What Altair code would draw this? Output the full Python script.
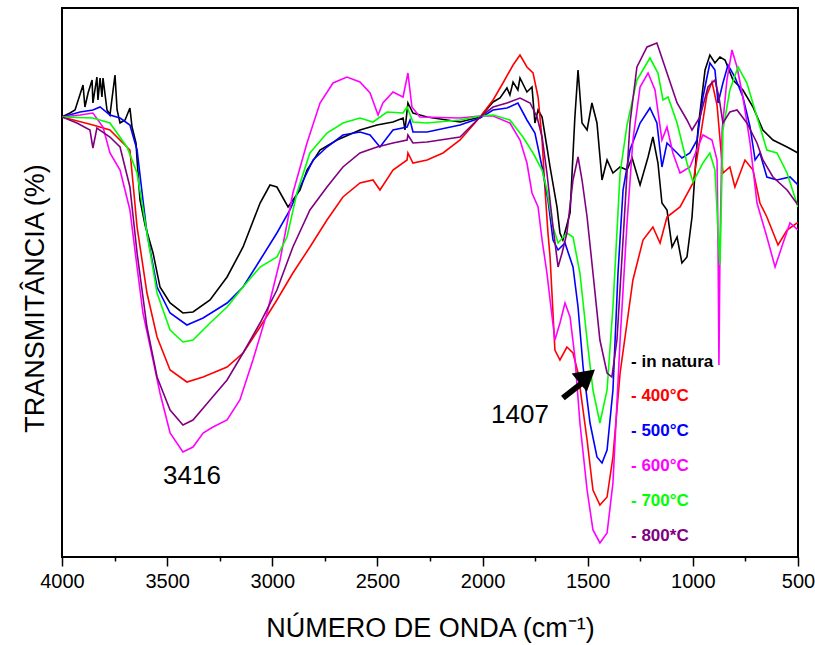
import altair as alt
import pandas as pd

# ---- data (wavenumber cm-1, transmittance in arbitrary units) ----
wn_natura = [4000, 3962, 3938, 3900, 3891, 3876, 3857, 3853, 3834, 3829, 3819, 3810, 3805, 3786, 3772, 3748, 3738, 3724, 3700, 3677, 3667, 3648, 3643, 3629, 3605, 3567, 3534, 3486, 3425, 3377, 3296, 3215, 3139, 3058, 3011, 2978, 2925, 2868, 2835, 2773, 2692, 2583, 2502, 2426, 2378, 2369, 2355, 2331, 2264, 2107, 2012, 1950, 1917, 1884, 1870, 1855, 1832, 1822, 1789, 1765, 1751, 1736, 1717, 1694, 1679, 1646, 1632, 1618, 1584, 1561, 1546, 1527, 1503, 1480, 1456, 1432, 1408, 1380, 1346, 1313, 1289, 1251, 1213, 1190, 1166, 1147, 1123, 1099, 1075, 1052, 1028, 1004, 976, 942, 919, 895, 871, 847, 809, 762, 714, 667, 619, 552, 500]
t_natura = [440, 444, 447, 472, 450, 464, 477, 454, 480, 457, 479, 460, 479, 447, 442, 482, 447, 434, 437, 449, 430, 414, 397, 357, 332, 304, 270, 254, 244, 245, 257, 280, 310, 354, 372, 370, 350, 367, 387, 407, 417, 427, 432, 435, 439, 427, 454, 444, 440, 435, 440, 455, 459, 469, 462, 475, 467, 479, 465, 470, 434, 447, 440, 410, 390, 350, 324, 317, 344, 440, 487, 434, 427, 454, 434, 377, 397, 384, 390, 387, 399, 372, 400, 420, 394, 354, 347, 310, 320, 294, 300, 340, 427, 487, 502, 494, 500, 497, 477, 467, 450, 427, 417, 410, 404]

wn_400 = [4000, 3853, 3772, 3677, 3643, 3596, 3548, 3486, 3406, 3329, 3215, 3139, 3058, 2978, 2902, 2821, 2740, 2664, 2583, 2521, 2488, 2426, 2359, 2355, 2331, 2264, 2188, 2107, 2012, 1950, 1903, 1855, 1822, 1789, 1760, 1736, 1717, 1703, 1689, 1679, 1656, 1632, 1599, 1570, 1546, 1503, 1475, 1442, 1408, 1380, 1346, 1285, 1237, 1190, 1156, 1123, 1061, 999, 933, 909, 885, 857, 824, 800, 752, 714, 681, 648, 595, 552, 505, 500]
t_400 = [440, 432, 427, 407, 330, 264, 220, 187, 175, 180, 190, 204, 230, 257, 284, 310, 337, 360, 374, 377, 367, 387, 397, 404, 394, 397, 404, 417, 440, 457, 474, 492, 502, 490, 484, 460, 417, 367, 324, 300, 207, 197, 210, 204, 184, 117, 67, 52, 60, 100, 184, 277, 317, 330, 314, 340, 350, 374, 462, 475, 452, 384, 390, 370, 397, 387, 354, 340, 312, 327, 334, 334]

wn_500 = [4000, 3914, 3853, 3819, 3772, 3724, 3677, 3643, 3615, 3596, 3548, 3486, 3406, 3329, 3215, 3139, 3058, 2978, 2916, 2868, 2806, 2740, 2664, 2583, 2535, 2488, 2426, 2359, 2345, 2331, 2264, 2107, 2012, 1950, 1884, 1832, 1789, 1751, 1717, 1689, 1665, 1641, 1608, 1570, 1546, 1522, 1489, 1456, 1432, 1408, 1380, 1356, 1332, 1299, 1251, 1204, 1171, 1147, 1123, 1075, 1052, 1014, 980, 952, 919, 895, 880, 857, 833, 800, 762, 728, 704, 681, 648, 600, 538, 500]
t_500 = [440, 445, 447, 450, 442, 439, 432, 407, 357, 324, 270, 244, 232, 239, 254, 270, 297, 324, 347, 370, 397, 410, 422, 425, 422, 410, 427, 430, 437, 425, 425, 432, 439, 447, 449, 454, 437, 424, 390, 357, 317, 307, 314, 290, 250, 190, 134, 100, 94, 107, 167, 284, 367, 407, 434, 449, 434, 390, 414, 404, 399, 404, 417, 460, 494, 487, 454, 474, 492, 480, 460, 430, 397, 404, 380, 377, 380, 372]

wn_600 = [4000, 3914, 3853, 3805, 3772, 3724, 3677, 3643, 3615, 3567, 3534, 3486, 3425, 3377, 3329, 3282, 3215, 3154, 3092, 3025, 2963, 2902, 2835, 2773, 2711, 2645, 2583, 2535, 2497, 2474, 2426, 2378, 2355, 2336, 2298, 2107, 2012, 1950, 1870, 1822, 1789, 1765, 1736, 1717, 1694, 1679, 1656, 1632, 1608, 1584, 1561, 1537, 1503, 1475, 1442, 1408, 1380, 1346, 1313, 1285, 1251, 1213, 1180, 1147, 1123, 1095, 1061, 1014, 976, 952, 909, 885, 880, 876, 871, 861, 838, 814, 790, 762, 728, 695, 648, 609, 571, 538, 500]
t_600 = [440, 442, 444, 430, 404, 387, 347, 290, 244, 197, 164, 124, 105, 110, 124, 130, 137, 157, 197, 244, 297, 364, 414, 454, 474, 480, 475, 464, 442, 454, 465, 460, 484, 450, 440, 439, 441, 441, 434, 417, 394, 364, 350, 317, 284, 257, 217, 234, 254, 240, 200, 134, 67, 27, 14, 24, 74, 217, 334, 417, 470, 484, 467, 417, 430, 404, 384, 390, 410, 422, 417, 397, 307, 192, 307, 427, 477, 507, 490, 460, 414, 354, 320, 290, 314, 334, 327]

wn_700 = [4000, 3853, 3772, 3691, 3643, 3596, 3548, 3486, 3425, 3377, 3296, 3215, 3139, 3058, 2978, 2930, 2883, 2821, 2740, 2664, 2583, 2521, 2454, 2378, 2359, 2331, 2264, 2107, 2012, 1950, 1870, 1808, 1760, 1717, 1694, 1665, 1641, 1599, 1570, 1537, 1503, 1475, 1442, 1408, 1380, 1346, 1313, 1266, 1204, 1166, 1142, 1118, 1075, 1028, 999, 952, 919, 895, 880, 871, 857, 824, 785, 743, 695, 648, 600, 552, 500]
t_700 = [440, 439, 434, 410, 384, 324, 264, 227, 215, 217, 234, 250, 270, 290, 300, 320, 364, 404, 424, 434, 439, 435, 445, 444, 450, 435, 434, 437, 441, 442, 437, 420, 404, 387, 367, 330, 314, 324, 320, 284, 217, 167, 134, 167, 250, 384, 432, 477, 499, 484, 457, 460, 434, 394, 375, 394, 404, 387, 327, 292, 427, 467, 490, 474, 440, 407, 404, 384, 350]

wn_800 = [4000, 3929, 3867, 3853, 3834, 3772, 3724, 3677, 3643, 3596, 3548, 3486, 3425, 3377, 3296, 3215, 3139, 3058, 2978, 2902, 2821, 2740, 2664, 2583, 2502, 2426, 2359, 2355, 2331, 2264, 2107, 2012, 1950, 1884, 1822, 1774, 1741, 1717, 1694, 1665, 1641, 1622, 1599, 1570, 1546, 1527, 1503, 1475, 1442, 1408, 1385, 1361, 1332, 1299, 1266, 1218, 1171, 1123, 1075, 1028, 1004, 966, 928, 895, 876, 857, 824, 790, 743, 695, 667, 619, 552, 500]
t_800 = [440, 434, 427, 409, 429, 420, 410, 370, 304, 230, 180, 147, 132, 137, 157, 177, 204, 234, 267, 310, 347, 370, 390, 404, 410, 414, 417, 422, 414, 415, 420, 440, 450, 454, 459, 454, 440, 420, 384, 330, 290, 304, 324, 377, 400, 377, 340, 284, 217, 184, 180, 217, 317, 434, 490, 510, 514, 484, 454, 437, 427, 440, 470, 477, 460, 434, 445, 447, 434, 414, 397, 380, 367, 352]

series_names = ["in natura", "400°C", "500°C", "600°C", "700°C", "800*C"]
series_colors = ["#000000", "#FF0000", "#0000FF", "#FF00FF", "#00FF00", "#800080"]
series_wn = [wn_natura, wn_400, wn_500, wn_600, wn_700, wn_800]
series_t = [t_natura, t_400, t_500, t_600, t_700, t_800]

# legend (text placed in data coordinates)
legend_labels = ["- in natura", "- 400°C", "- 500°C", "- 600°C", "- 700°C", "- 800*C"]
legend_x = 1294
legend_y = [195, 161, 126, 91, 56, 21]

# peak annotations
peak_labels = ["3416", "1407"]
peak_x = [3382, 1822]
peak_y = [73, 134]

# arrow pointing to the 1407 band
arrow_tail = (1618, 159)
arrow_neck = (1527, 174)
arrow_head = (1503, 181)

x_tick_values = list(range(500, 4001, 250))

FONT = "Liberation Sans"

x_scale = alt.Scale(domain=[500, 4000], reverse=True, nice=False)
y_scale = alt.Scale(domain=[0, 549], nice=False, zero=False)

x_axis = alt.Axis(
    values=x_tick_values,
    format="d",
    labelExpr="datum.value % 500 === 0 ? datum.label : ''",
    tickSize={"condition": {"test": "datum.value % 500 !== 0", "value": 4}, "value": 9},
    tickColor="black",
    tickWidth=1.5,
    domain=False,
    grid=False,
    labelFont=FONT,
    labelFontSize=20,
    labelColor="black",
    labelPadding=5,
    labelFlush=False,
    labelOverlap=False,
    title="NÚMERO DE ONDA (cm⁻¹)",
    titleFont=FONT,
    titleFontSize=27,
    titleFontWeight="normal",
    titleColor="black",
    titleX=368,
    titleY=79,
    titleBaseline="alphabetic",
    titleAlign="center",
)
y_axis = alt.Axis(
    labels=False,
    ticks=False,
    domain=False,
    grid=False,
    title="TRANSMITÂNCIA (%)",
    titleFont=FONT,
    titleFontSize=27,
    titleFontWeight="normal",
    titleColor="black",
    titleAngle=-90,
    titleX=-27,
    titleY=290,
    titleAlign="center",
    titleBaseline="middle",
)

X = lambda f: alt.X(f, scale=x_scale, axis=x_axis)
Y = lambda f: alt.Y(f, scale=y_scale, axis=y_axis)

layers = []
for i, (name, col) in enumerate(zip(series_names, series_colors)):
    df = pd.DataFrame({"wn": series_wn[i], "t": series_t[i], "serie": name})
    layers.append(
        alt.Chart(df).mark_line(color=col, strokeWidth=1.6, clip=True).encode(x=X("wn:Q"), y=Y("t:Q"))
    )

legend_df = pd.DataFrame({"wn": legend_x, "t": legend_y, "label": legend_labels, "col": series_colors})
legend = alt.Chart(legend_df).mark_text(
    align="left", baseline="middle", font=FONT, fontSize=17, fontWeight="bold"
).encode(
    x=X("wn:Q"),
    y=Y("t:Q"),
    text="label:N",
    color=alt.Color("col:N", scale=None),
)

peaks_df = pd.DataFrame({"wn": peak_x, "t": peak_y, "label": peak_labels})
peaks = alt.Chart(peaks_df).mark_text(
    align="center", baseline="alphabetic", font=FONT, fontSize=26, color="black"
).encode(
    x=X("wn:Q"),
    y=Y("t:Q"),
    text="label:N",
)

shaft_df = pd.DataFrame({"wn": [arrow_tail[0]], "t": [arrow_tail[1]], "wn2": [arrow_neck[0]], "t2": [arrow_neck[1]]})
shaft = alt.Chart(shaft_df).mark_rule(color="black", strokeWidth=6).encode(
    x=X("wn:Q"),
    y=Y("t:Q"),
    x2="wn2:Q",
    y2="t2:Q",
)
head_df = pd.DataFrame({"wn": [arrow_head[0]], "t": [arrow_head[1]]})
head = alt.Chart(head_df).mark_point(
    shape="triangle-up", filled=True, color="black", opacity=1, size=560, angle=50
).encode(
    x=X("wn:Q"),
    y=Y("t:Q"),
)

chart = alt.layer(*layers, legend, peaks, shaft, head).properties(
    width=736,
    height=549,
    autosize=alt.AutoSizeParams(type="none"),
    padding={"left": 62, "top": 8, "right": 17, "bottom": 88},
    background="white",
).configure_view(stroke="black", strokeWidth=2)

chart.save("out.html", embed_options={"renderer": "svg", "actions": False})
